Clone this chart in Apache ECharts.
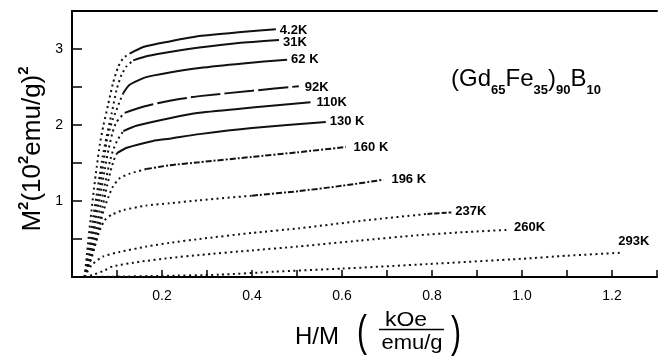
<!DOCTYPE html>
<html>
<head>
<meta charset="utf-8">
<script src="https://cdn.jsdelivr.net/npm/echarts@6/dist/echarts.min.js"></script>
<style>
  html, body { margin: 0; padding: 0; background: #fff; }
  #main { width: 660px; height: 362px; }
</style>
</head>
<body>
<div id="main"></div>
<script>
var chartDom = document.getElementById('main');
var myChart = echarts.init(chartDom);
var option;

var FONT = '"Liberation Sans", Arial, Helvetica, sans-serif';

// points are [H/M (kOe/(emu/g)), M^2 (10^2 emu/g)^2]
var t4_2 = [[0.028, 0], [0.034, 0.35], [0.041, 0.75], [0.048, 1.12], [0.055, 1.45], [0.062, 1.75], [0.07, 2.0], [0.08, 2.26], [0.091, 2.55], [0.103, 2.77], [0.114, 2.88], [0.128, 2.94], [0.16, 3.03], [0.217, 3.1], [0.283, 3.17], [0.37, 3.22], [0.453, 3.26]];
var t31 = [[0.028, 0], [0.036, 0.3], [0.045, 0.7], [0.054, 1.05], [0.062, 1.35], [0.068, 1.58], [0.077, 1.85], [0.088, 2.15], [0.099, 2.46], [0.11, 2.66], [0.121, 2.77], [0.136, 2.85], [0.17, 2.91], [0.217, 2.96], [0.283, 3.02], [0.37, 3.08], [0.46, 3.12]];
var t62 = [[0.028, 0], [0.038, 0.3], [0.048, 0.68], [0.058, 1.05], [0.068, 1.42], [0.077, 1.78], [0.084, 1.95], [0.091, 2.08], [0.099, 2.2], [0.106, 2.31], [0.114, 2.42], [0.128, 2.53], [0.165, 2.63], [0.217, 2.69], [0.283, 2.75], [0.38, 2.81], [0.478, 2.86]];
var t92 = [[0.028, 0], [0.04, 0.3], [0.051, 0.68], [0.062, 1.05], [0.073, 1.42], [0.082, 1.7], [0.09, 1.9], [0.099, 2.04], [0.117, 2.16], [0.158, 2.24], [0.217, 2.32], [0.283, 2.38], [0.4, 2.45], [0.504, 2.51]];
var t110 = [[0.028, 0], [0.042, 0.3], [0.053, 0.62], [0.065, 0.98], [0.076, 1.3], [0.084, 1.52], [0.092, 1.68], [0.101, 1.8], [0.114, 1.92], [0.143, 1.99], [0.217, 2.09], [0.283, 2.16], [0.4, 2.23], [0.53, 2.3]];
var t130 = [[0.028, 0], [0.044, 0.3], [0.056, 0.6], [0.068, 0.92], [0.078, 1.2], [0.086, 1.4], [0.093, 1.54], [0.1, 1.63], [0.122, 1.7], [0.18, 1.79], [0.217, 1.82], [0.283, 1.88], [0.4, 1.96], [0.564, 2.04]];
var t160 = [[0.028, 0], [0.045, 0.28], [0.055, 0.5], [0.062, 0.68], [0.07, 0.87], [0.08, 1.04], [0.091, 1.19], [0.106, 1.3], [0.128, 1.36], [0.165, 1.42], [0.217, 1.47], [0.283, 1.51], [0.4, 1.58], [0.5, 1.64], [0.608, 1.71]];
var t196 = [[0.028, 0], [0.04, 0.2], [0.05, 0.4], [0.062, 0.62], [0.073, 0.75], [0.088, 0.82], [0.114, 0.88], [0.165, 0.94], [0.217, 0.97], [0.283, 1.01], [0.4, 1.07], [0.504, 1.13], [0.6, 1.2], [0.692, 1.28]];
var t237 = [[0.028, 0], [0.035, 0.08], [0.044, 0.16], [0.069, 0.27], [0.106, 0.33], [0.165, 0.4], [0.217, 0.45], [0.283, 0.5], [0.4, 0.58], [0.504, 0.64], [0.644, 0.74], [0.79, 0.83], [0.843, 0.85]];
var t260 = [[0.028, 0], [0.047, 0.03], [0.07, 0.08], [0.091, 0.14], [0.15, 0.2], [0.217, 0.25], [0.283, 0.29], [0.4, 0.35], [0.5, 0.4], [0.64, 0.48], [0.77, 0.55], [0.87, 0.59], [0.969, 0.62]];
var t293 = [[0.028, 0], [0.1, 0.005], [0.2, 0.015], [0.327, 0.03], [0.45, 0.07], [0.6, 0.11], [0.79, 0.17], [1.0, 0.24], [1.1, 0.28], [1.223, 0.32]];

var curveNames = ['4.2K', '31K', '62 K', '92K', '110K', '130 K', '160 K', '196 K', '237K', '260K', '293K'];
var curves = [t4_2, t31, t62, t92, t110, t130, t160, t196, t237, t260, t293];

var xTickLabels = ['0.2', '0.4', '0.6', '0.8', '1.0', '1.2'];
var yTickLabels = ['1', '2', '3'];

// drawing style per curve: where the dotted rise ends, dash of the rest, label nudge
var kneeX = [0.128, 0.136, 0.114, 0.117, 0.114, 0.1, 0.165, 0.4, 0.79, 99, 99];
var flatType = ['solid', 'solid', 'solid', [30, 4], 'solid', 'solid', [6, 2, 2, 2], [6, 2, 2, 2], [5, 2], 'solid', 'solid'];
var labelNudge = [[0, 1], [0, 3], [0, 0], [2, 1], [2, 0], [0, -1], [4, 0], [4, 0], [0, -1], [2, -2], [-8, -11]];

var dotted = [2, 3.5];
var ink = '#111';

var series = [];
curves.forEach(function (pts, i) {
    var k = kneeX[i];
    var steep = pts.filter(function (p) { return p[0] <= k; });
    var flat = pts.filter(function (p) { return p[0] >= k; });
    var label = {
        show: true,
        formatter: curveNames[i],
        color: '#000',
        fontFamily: FONT,
        fontSize: 13,
        fontWeight: 'bold',
        distance: 4,
        offset: labelNudge[i]
    };
    series.push({
        type: 'line',
        data: steep,
        symbol: 'none',
        smooth: 0.2,
        silent: true,
        lineStyle: { color: ink, width: 2, type: dotted },
        endLabel: flat.length > 1 ? { show: false } : label
    });
    if (flat.length > 1) {
        series.push({
            type: 'line',
            data: flat,
            symbol: 'none',
            smooth: 0.2,
            silent: true,
            lineStyle: { color: ink, width: 2, type: flatType[i] },
            endLabel: label
        });
    }
});

option = {
    animation: false,
    backgroundColor: '#fff',
    grid: { left: 72, top: 11, width: 590, height: 266, containLabel: false },
    xAxis: [{
        type: 'value',
        min: 0,
        max: 1.3,
        interval: 0.1,
        axisLine: { show: true, lineStyle: { color: '#000', width: 2 } },
        axisTick: { show: true, inside: true, length: 7, lineStyle: { color: '#000', width: 1.5 } },
        splitLine: { show: false },
        axisLabel: {
            color: '#000',
            fontFamily: FONT,
            fontSize: 14,
            margin: 12,
            formatter: function (v) {
                var s = v.toFixed(1);
                return xTickLabels.indexOf(s) >= 0 ? s : '';
            }
        }
    }, {
        type: 'value',
        position: 'top',
        min: 0,
        max: 1.3,
        axisLine: { show: true, lineStyle: { color: '#000', width: 2 } },
        axisTick: { show: false },
        axisLabel: { show: false },
        splitLine: { show: false }
    }],
    yAxis: {
        type: 'value',
        min: 0,
        max: 3.5,
        interval: 0.5,
        axisLine: { show: true, lineStyle: { color: '#000', width: 2 } },
        axisTick: { show: true, inside: true, length: 10, lineStyle: { color: '#000', width: 1.5 } },
        splitLine: { show: false },
        axisLabel: {
            color: '#000',
            fontFamily: FONT,
            fontSize: 14,
            margin: 9,
            formatter: function (v) {
                var s = String(v);
                return yTickLabels.indexOf(s) >= 0 ? s : '';
            }
        }
    },
    graphic: [
        {
            type: 'text',
            x: 31,
            y: 149,
            rotation: Math.PI / 2,
            style: {
                text: '{m|M}{s|2}{m|(10}{s|2}{m|emu/g)}{s|2}',
                align: 'center',
                verticalAlign: 'middle',
                fill: '#000',
                rich: {
                    m: { fontFamily: FONT, fontSize: 26, lineHeight: 30, verticalAlign: 'bottom' },
                    s: { fontFamily: FONT, fontSize: 15, fontWeight: 'bold', lineHeight: 16, verticalAlign: 'top' }
                }
            }
        },
        {
            type: 'text',
            x: 451,
            y: 67,
            style: {
                text: '{m|(Gd}{s|65}{m|Fe}{s|35}{m|)}{s|90}{m|B}{s|10}',
                fill: '#000',
                rich: {
                    m: { fontFamily: FONT, fontSize: 24, lineHeight: 25, verticalAlign: 'top' },
                    s: { fontFamily: FONT, fontSize: 13, fontWeight: 'bold', lineHeight: 13, padding: [17, 0, 0, 0], verticalAlign: 'top' }
                }
            }
        },
        {
            type: 'text', x: 295, y: 337,
            style: { text: 'H/M', fontFamily: FONT, fontSize: 24, fill: '#000', align: 'left', verticalAlign: 'middle' }
        },
        {
            type: 'text', x: 362, y: 334, scaleY: 1.5,
            style: { text: '(', fontFamily: FONT, fontSize: 30, fill: '#000', align: 'center', verticalAlign: 'middle' }
        },
        {
            type: 'text', x: 406, y: 320, scaleX: 1.15,
            style: { text: 'kOe', fontFamily: FONT, fontSize: 20, fill: '#000', align: 'center', verticalAlign: 'middle' }
        },
        {
            type: 'line',
            shape: { x1: 379, y1: 329.5, x2: 444, y2: 329.5 },
            style: { stroke: '#000', lineWidth: 1.5 }
        },
        {
            type: 'text', x: 412, y: 343, scaleX: 1.1,
            style: { text: 'emu/g', fontFamily: FONT, fontSize: 20, fill: '#000', align: 'center', verticalAlign: 'middle' }
        },
        {
            type: 'text', x: 456, y: 335, scaleY: 1.5,
            style: { text: ')', fontFamily: FONT, fontSize: 30, fill: '#000', align: 'center', verticalAlign: 'middle' }
        }
    ],
    series: series
};

option && myChart.setOption(option);
</script>
</body>
</html>
